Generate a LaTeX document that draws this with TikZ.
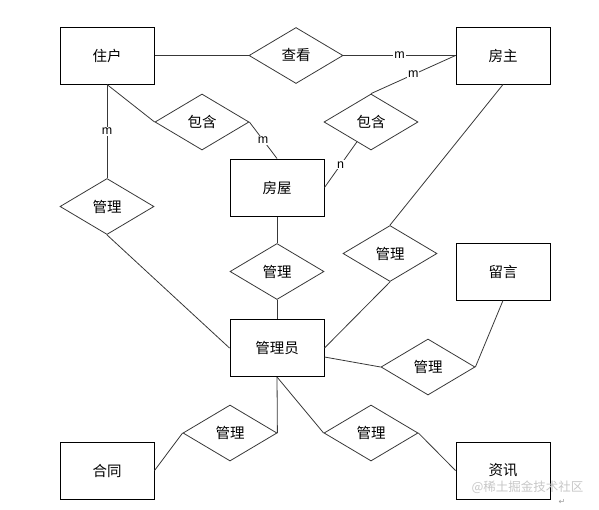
\documentclass[tikz,border=0pt]{standalone}
\usepackage{fontspec}
\newfontfamily\cjk{Noto Sans CJK SC}
\newfontfamily\dejavu{DejaVu Sans}
\newfontfamily\lsans{Liberation Sans}
\usetikzlibrary{shapes.geometric,calc}
\definecolor{linegray}{HTML}{383838}
\tikzset{
  entity/.style={draw=black, line width=1pt, rectangle, minimum width=94pt, minimum height=57pt, inner sep=0pt, font=\cjk\fontsize{14.5}{15}\selectfont},
  rel/.style={draw=linegray, line width=0.8pt, diamond, minimum width=94pt, minimum height=56pt, inner sep=0pt, font=\cjk\fontsize{14.5}{15}\selectfont},
  conn/.style={draw=linegray, line width=0.8pt},
  card/.style={fill=white, inner sep=1pt, font=\lsans\fontsize{12.5}{13}\selectfont}
}
\begin{document}
\begin{tikzpicture}[x=1pt,y=-1pt]
\useasboundingbox (0,0) rectangle (599,509);
% entities
\node[entity] (zh) at (107,55.5) {住户};
\node[entity] (fz) at (503,55.5) {房主};
\node[entity] (fw) at (277,187.5) {房屋};
\node[entity] (gly) at (277,348) {管理员};
\node[entity] (ly) at (503,271.5) {留言};
\node[entity] (ht) at (107,470.5) {合同};
\node[entity] (zx) at (503,470.5) {资讯};
% relationships
\node[rel] (ck) at (296,55.5) {查看};
\node[rel] (bhl) at (202,122) {包含};
\node[rel] (bhr) at (371,122) {包含};
\node[rel] (gl1) at (107,206.5) {管理};
\node[rel] (gl2) at (277,271.5) {管理};
\node[rel] (gl3) at (390,253.5) {管理};
\node[rel] (gl4) at (428,367) {管理};
\node[rel] (gl5) at (230,433) {管理};
\node[rel] (gl6) at (371,433) {管理};
% connectors
\draw[conn] (zh.east) -- (ck.west);
\draw[conn] (ck.east) -- node[card] {m} (fz.west);
\draw[conn] (zh.south) -- node[card] {m} (gl1.north);
\draw[conn] (zh.south) -- (bhl.west);
\draw[conn] (bhl.east) -- node[card] {m} (fw.north);
\draw[conn] (fz.west) -- node[card] {m} (bhr.north);
\draw[conn] (fw.east) -- node[card] {n} (bhr);
\draw[conn] (fz.south) -- (gl3.north);
\draw[conn] (gl3.south) -- (gly.east);
\draw[conn] (gl1.south) -- (gly.west);
\draw[conn] (fw.south) -- (gl2.north);
\draw[conn] (gl2.south) -- (gly.north);
\draw[conn] ([yshift=-9pt]gly.east) -- (gl4.west);
\draw[conn] (gl4.east) -- (ly.south);
\draw[conn] (gly.south) -- (gl5.east);
\draw[conn] (gl5.west) -- (ht.east);
\draw[conn] (gly.south) -- (gl6.west);
\draw[conn] (gl6.east) -- (zx.west);
% watermark
\node[text=black!22, font=\cjk\fontsize{12.5}{13}\selectfont, inner sep=0pt] (wm) at (527.5,487) {@稀土掘金技术社区};
\node[text=black!40, font=\dejavu\fontsize{8}{8}\selectfont, inner sep=0pt] (rt) at (562,502) {↵};
\end{tikzpicture}
\end{document}
